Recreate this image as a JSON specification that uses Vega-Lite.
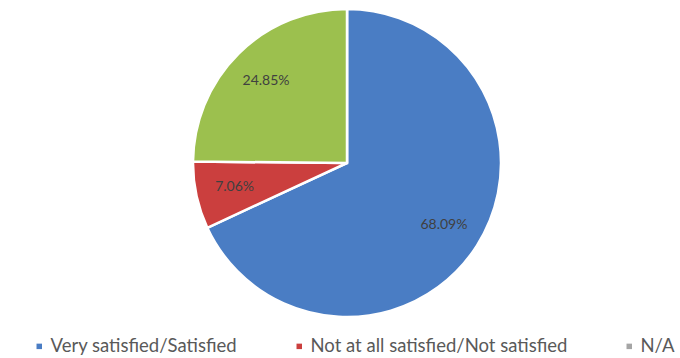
{
  "$schema": "https://vega.github.io/schema/vega-lite/v6.json",
  "width": 666,
  "height": 326,
  "autosize": {"type": "none"},
  "padding": {"left": 14, "top": 0, "right": 0, "bottom": 32},
  "background": "white",
  "config": {"view": {"stroke": null}, "font": "Lato"},
  "data": {
    "values": [
      {"category": "Very satisfied/Satisfied", "share": 68.09, "label": "68.09%", "rank": 1},
      {"category": "Not at all satisfied/Not satisfied", "share": 7.06, "label": "7.06%", "rank": 2},
      {"category": "N/A", "share": 0, "label": "", "rank": 4},
      {"category": "Somewhat satisfied", "share": 24.85, "label": "24.85%", "rank": 3}
    ]
  },
  "encoding": {
    "theta": {"field": "share", "type": "quantitative", "stack": true},
    "order": {"field": "rank", "type": "quantitative"}
  },
  "layer": [
    {
      "mark": {"type": "arc", "outerRadius": 154, "stroke": "white", "strokeWidth": 2.5},
      "encoding": {
        "color": {
          "field": "category",
          "type": "nominal",
          "scale": {
            "domain": ["Very satisfied/Satisfied", "Not at all satisfied/Not satisfied", "N/A", "Somewhat satisfied"],
            "range": ["#4A7DC4", "#CB3F3E", "#A5A5A5", "#9CC04E"]
          },
          "legend": {
            "orient": "none",
            "legendX": 16,
            "legendY": 337,
            "direction": "horizontal",
            "columns": 3,
            "values": ["Very satisfied/Satisfied", "Not at all satisfied/Not satisfied", "N/A"],
            "title": null,
            "symbolType": "square",
            "symbolSize": 30,
            "symbolStrokeWidth": 0,
            "labelFont": "Lato",
            "labelFontSize": 18.5,
            "labelColor": "#595959",
            "labelOffset": 2,
            "labelLimit": 400,
            "columnPadding": 52
          }
        }
      }
    },
    {
      "transform": [{"filter": "datum.share > 0"}],
      "mark": {"type": "text", "radius": 115, "fontSize": 14, "font": "Lato", "color": "#404040"},
      "encoding": {"text": {"field": "label"}}
    }
  ]
}
